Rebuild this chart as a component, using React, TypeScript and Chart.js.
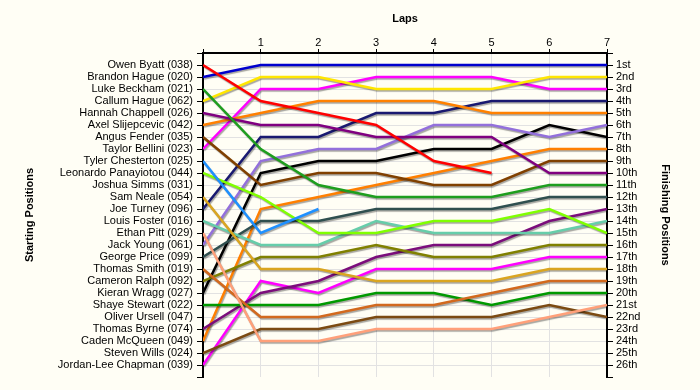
import React, { useEffect, useRef } from 'react';
import { Chart, registerables } from 'chart.js';

Chart.register(...registerables);

const laps = [0, 1, 2, 3, 4, 5, 6, 7];

const startingLabels = [
  'Owen Byatt (038)', 'Brandon Hague (020)', 'Luke Beckham (021)', 'Callum Hague (062)',
  'Hannah Chappell (026)', 'Axel Slijepcevic (042)', 'Angus Fender (035)', 'Taylor Bellini (023)',
  'Tyler Chesterton (025)', 'Leonardo Panayiotou (044)', 'Joshua Simms (031)', 'Sam Neale (054)',
  'Joe Turney (096)', 'Louis Foster (016)', 'Ethan Pitt (029)', 'Jack Young (061)',
  'George Price (099)', 'Thomas Smith (019)', 'Cameron Ralph (092)', 'Kieran Wragg (027)',
  'Shaye Stewart (022)', 'Oliver Ursell (047)', 'Thomas Byrne (074)', 'Caden McQueen (049)',
  'Steven Wills (024)', 'Jordan-Lee Chapman (039)',
];

const finishingLabels = [
  '1st', '2nd', '3rd', '4th', '5th', '6th', '7th', '8th', '9th', '10th', '11th', '12th', '13th',
  '14th', '15th', '16th', '17th', '18th', '19th', '20th', '21st', '22nd', '23rd', '24th', '25th', '26th',
];

// positions per lap (lap 0 = starting position)
const owenByatt = [1, 4, 5, 6, 9, 10];
const brandonHague = [2, 1, 1, 1, 1, 1, 1, 1];
const lukeBeckham = [3, 8, 11, 12, 12, 12, 11, 11];
const callumHague = [4, 2, 2, 3, 3, 3, 2, 2];
const hannahChappell = [5, 6, 6, 7, 7, 7, 10, 10];
const axelSlijepcevic = [6, 5, 4, 4, 4, 5, 5, 5];
const angusFender = [7, 11, 10, 10, 11, 11, 9, 9];
const taylorBellini = [8, 3, 3, 2, 2, 2, 3, 3];
const tylerChesterton = [9, 15, 13];
const leonardoPanayiotou = [10, 12, 15, 15, 14, 14, 13, 15];
const joshuaSimms: number[] = [];
const samNeale = [12, 18, 18, 19, 19, 19, 18, 18];
const joeTurney = [13, 7, 7, 5, 5, 4, 4, 4];
const louisFoster = [14, 16, 16, 14, 15, 15, 15, 14];
const ethanPitt = [15, 24, 24, 23, 23, 23, 22, 21];
const jackYoung = [16, 9, 8, 8, 6, 6, 7, 6];
const georgePrice = [17, 14, 14, 13, 13, 13, 12, 12];
const thomasSmith = [18, 22, 22, 21, 21, 20, 19, 19];
const cameronRalph = [19, 17, 17, 16, 17, 17, 16, 16];
const kieranWragg = [20, 10, 9, 9, 8, 8, 6, 7];
const shayeStewart = [21, 21, 21, 20, 20, 21, 20, 20];
const oliverUrsell: number[] = [];
const thomasByrne = [23, 20, 19, 17, 16, 16, 14, 13];
const cadenMcQueen = [24, 13, 12, 11, 10, 9, 8, 8];
const stevenWills = [25, 23, 23, 22, 22, 22, 21, 22];
const jordanLeeChapman = [26, 19, 20, 18, 18, 18, 17, 17];

const seriesValues = [
  owenByatt, brandonHague, lukeBeckham, callumHague, hannahChappell, axelSlijepcevic,
  angusFender, taylorBellini, tylerChesterton, leonardoPanayiotou, joshuaSimms, samNeale,
  joeTurney, louisFoster, ethanPitt, jackYoung, georgePrice, thomasSmith, cameronRalph,
  kieranWragg, shayeStewart, oliverUrsell, thomasByrne, cadenMcQueen, stevenWills, jordanLeeChapman,
];

const seriesColors = [
  '#FF0000', '#0000CD', '#1E9E1E', '#FFE600', '#800080', '#FF8000',
  '#804000', '#FF00FF', '#1E90FF', '#80FF00', '#999999', '#DAA520',
  '#191970', '#66CDAA', '#FFA07A', '#9370DB', '#2F4F4F', '#D2691E', '#808000',
  '#000000', '#009900', '#999999', '#7B0D7B', '#FF7F00', '#7B4A12', '#FF00FF',
];

const FONT = '"Liberation Sans", Arial, sans-serif';
const GRID = '#E2E2E2';
const BG = '#FFFEF5';

const bgPlugin = {
  id: 'bg',
  beforeDraw(chart: any) {
    const ctx = chart.ctx;
    ctx.save();
    ctx.fillStyle = BG;
    ctx.fillRect(0, 0, chart.width, chart.height);
    ctx.restore();
  },
};

const shadowPlugin = {
  id: 'lineShadow',
  beforeDatasetsDraw(chart: any) {
    const ctx = chart.ctx;
    ctx.save();
    ctx.shadowColor = 'rgba(0,0,0,0.35)';
    ctx.shadowOffsetX = 1;
    ctx.shadowOffsetY = 1.5;
    ctx.shadowBlur = 1;
  },
  afterDatasetsDraw(chart: any) {
    chart.ctx.restore();
  },
};

export default function App() {
  const ref = useRef<HTMLCanvasElement>(null);

  useEffect(() => {
    document.body.style.margin = '0';
    const datasets = seriesValues.map((vals, i) => ({
      label: startingLabels[i],
      data: vals.map((v, j) => ({ x: laps[j], y: v })),
      borderColor: seriesColors[i],
      backgroundColor: seriesColors[i],
      borderWidth: 2.5,
      pointRadius: 0,
      pointHoverRadius: 0,
      tension: 0,
      fill: false,
    }));

    const tickFont = { family: FONT, size: 11 };
    const titleFont = { family: FONT, size: 11, weight: 'bold' as const };

    const chart = new Chart(ref.current!, {
      type: 'line',
      data: { datasets },
      plugins: [bgPlugin, shadowPlugin],
      options: {
        animation: false,
        responsive: false,
        events: [],
        layout: { padding: { top: 0, left: 0, right: 0, bottom: 13 } },
        plugins: { legend: { display: false }, tooltip: { enabled: false } },
        scales: {
          x: {
            type: 'linear',
            position: 'top',
            min: 0,
            max: 7,
            afterFit: (s: any) => { s.height = 53; },
            ticks: {
              stepSize: 1,
              autoSkip: false,
              maxRotation: 0,
              padding: -1,
              color: '#000',
              font: tickFont,
              callback: (v: any) => (v === 0 ? '' : String(v)),
            },
            grid: { color: GRID, tickColor: '#000', tickLength: 4, lineWidth: 1 },
            border: { color: '#000', width: 2 },
            title: { display: true, text: 'Laps', color: '#000', font: titleFont, padding: { top: 12, bottom: 0 } },
          },
          y: {
            type: 'linear',
            position: 'left',
            reverse: true,
            min: 0,
            max: 27,
            afterFit: (s: any) => { s.width = 203; },
            ticks: {
              stepSize: 1,
              autoSkip: false,
              padding: 4,
              color: '#000',
              font: tickFont,
              callback: (v: any) => startingLabels[v - 1] ?? '',
            },
            grid: {
              color: (c: any) => (c.tick && c.tick.value === 27 ? 'rgba(0,0,0,0)' : GRID),
              tickColor: '#000',
              tickLength: 6,
            },
            border: { color: '#000', width: 2 },
            title: { display: true, text: 'Starting Positions', color: '#000', font: titleFont, padding: { top: 23, bottom: 0 } },
          },
          y2: {
            type: 'linear',
            position: 'right',
            reverse: true,
            min: 0,
            max: 27,
            afterFit: (s: any) => { s.width = 93; },
            ticks: {
              stepSize: 1,
              autoSkip: false,
              padding: 3,
              color: '#000',
              font: tickFont,
              callback: (v: any) => finishingLabels[v - 1] ?? '',
            },
            grid: { drawOnChartArea: false, tickColor: '#000', tickLength: 6 },
            border: { color: '#000', width: 2 },
            title: { display: true, text: 'Finishing Positions', color: '#000', font: titleFont, padding: { top: 28, bottom: 0 } },
          },
        },
      },
    });
    return () => chart.destroy();
  }, []);

  return <canvas ref={ref} width={700} height={390} style={{ display: 'block' }} />;
}
